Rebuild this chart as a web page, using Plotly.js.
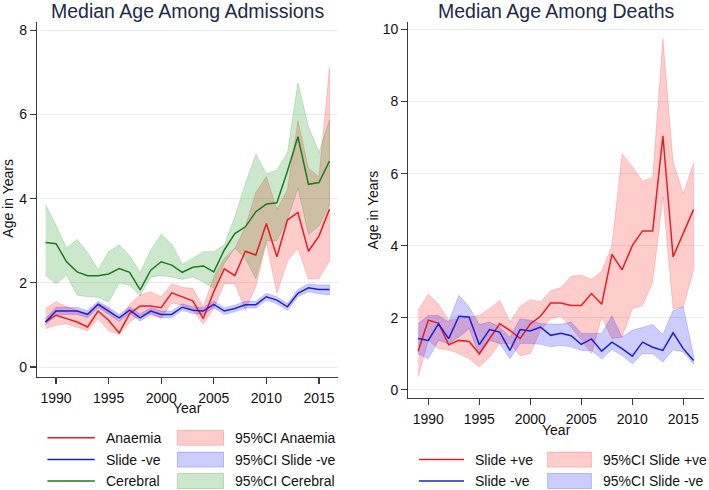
<!DOCTYPE html>
<html>
<head>
<meta charset="utf-8">
<script src="https://cdn.plot.ly/plotly-3.0.1.min.js"></script>
<style>html,body{margin:0;padding:0;background:#fff;}#chart{width:709px;height:490px;}</style>
</head>
<body>
<div id="chart"></div>
<script>
// ---------- data ----------
const years = [1989,1990,1991,1992,1993,1994,1995,1996,1997,1998,1999,2000,2001,2002,2003,2004,2005,2006,2007,2008,2009,2010,2011,2012,2013,2014,2015,2016];

// Admissions panel
const anaemia   = [1.07,1.23,1.15,1.07,0.95,1.33,1.11,0.81,1.27,1.45,1.45,1.41,1.76,1.67,1.57,1.15,1.79,2.33,2.17,2.75,2.66,3.41,2.62,3.49,3.67,2.75,3.11,3.75];
const anaemiaHi = [1.39,1.55,1.43,1.35,1.27,1.51,1.39,1.07,1.49,1.71,1.79,1.67,1.98,1.89,1.87,1.43,2.14,2.58,2.82,3.33,4.15,4.52,3.75,4.20,5.85,4.72,4.52,7.10];
const anaemiaLo = [0.91,0.99,1.03,0.95,0.86,1.15,0.86,0.77,1.07,1.23,1.27,1.15,1.52,1.47,1.35,1.02,1.39,1.98,1.98,1.35,1.92,2.96,1.75,2.52,2.82,2.09,2.10,2.52];

const slideNegA   = [1.07,1.33,1.33,1.33,1.25,1.49,1.33,1.17,1.35,1.17,1.33,1.25,1.25,1.42,1.35,1.33,1.49,1.33,1.39,1.48,1.48,1.67,1.59,1.43,1.75,1.88,1.84,1.84];
const slideNegAHi = [1.15,1.42,1.42,1.42,1.34,1.56,1.42,1.25,1.43,1.26,1.41,1.33,1.33,1.50,1.43,1.41,1.57,1.41,1.47,1.56,1.56,1.75,1.67,1.51,1.84,1.97,1.95,1.95];
const slideNegALo = [1.00,1.24,1.25,1.25,1.17,1.41,1.25,1.09,1.27,1.09,1.25,1.17,1.17,1.35,1.27,1.25,1.41,1.25,1.31,1.40,1.40,1.59,1.50,1.35,1.67,1.79,1.74,1.71];

const cerebral   = [2.96,2.93,2.50,2.26,2.17,2.17,2.21,2.34,2.25,1.83,2.30,2.50,2.42,2.25,2.37,2.40,2.26,2.78,3.17,3.33,3.69,3.87,3.90,4.65,5.47,4.34,4.38,4.89];
const cerebralHi = [3.86,3.37,2.82,3.03,2.72,2.31,2.74,2.90,2.64,2.24,2.78,3.15,2.92,2.44,2.58,2.74,2.74,2.90,3.57,4.35,5.06,4.59,4.68,5.08,6.75,5.71,5.10,5.87];
const cerebralLo = [2.18,1.98,2.18,1.71,1.67,1.66,1.54,2.00,1.94,1.69,2.14,2.17,2.14,2.08,2.14,2.02,1.87,2.46,2.82,2.58,2.10,3.00,3.00,3.50,4.25,3.15,3.35,3.85];

// Deaths panel
const slidePos   = [1.07,1.93,1.85,1.25,1.37,1.34,1.00,1.42,1.83,1.65,1.42,1.83,2.04,2.41,2.41,2.34,2.34,2.67,2.37,3.76,3.33,4.00,4.41,4.41,7.05,3.69,4.35,5.00];
const slidePosHi = [2.20,2.65,2.37,1.93,1.97,2.02,2.06,2.25,2.48,1.88,2.31,2.50,2.44,2.75,2.83,3.15,3.18,3.06,3.29,4.00,6.55,6.19,5.79,5.89,9.75,6.32,5.44,6.28];
const slidePosLo = [0.35,1.37,1.14,1.11,1.00,0.86,0.63,0.91,1.28,1.28,0.95,1.00,1.65,1.98,2.03,1.74,1.38,1.00,2.02,1.42,1.46,2.25,2.34,2.99,5.35,2.25,2.30,3.31];

const slideNegD   = [1.42,1.37,1.83,1.42,2.04,2.02,1.25,1.67,1.60,1.09,1.67,1.63,1.74,1.51,1.57,1.50,1.26,1.41,1.07,1.32,1.14,0.93,1.32,1.18,1.09,1.58,1.14,0.81];
const slideNegDHi = [1.83,2.06,2.06,1.88,2.62,2.30,1.81,1.88,1.74,1.46,1.97,1.93,1.83,1.82,1.82,1.88,1.57,1.56,1.56,2.05,1.46,1.65,1.74,1.81,1.53,2.20,2.30,0.95];
const slideNegDLo = [1.00,0.86,1.37,1.28,1.46,1.69,0.95,1.37,1.28,0.86,1.28,1.28,1.26,1.19,1.23,1.19,1.09,1.09,0.86,1.12,0.95,0.72,1.00,1.00,0.77,1.11,1.05,0.72];

const xTickVals = [1990,1995,2000,2005,2010,2015];
const xTickText = ['1990','1995','2000','2005','2010','2015'];
const yTickValsA = [0,2,4,6,8];
const yTickValsD = [0,2,4,6,8,10];

const leftLegend  = [['Anaemia','95%CI Anaemia'],['Slide -ve','95%CI Slide -ve'],['Cerebral','95%CI Cerebral']];
const rightLegend = [['Slide +ve','95%CI Slide +ve'],['Slide -ve','95%CI Slide -ve']];

// ---------- styles ----------
const RED = '#e31e24', BLUE = '#1f1fd1', GREEN = '#1e7b1e';
const RED_F = 'rgba(255,0,0,0.2)', BLUE_F = 'rgba(0,0,255,0.2)', GREEN_F = 'rgba(0,140,0,0.2)';
const RED_E = 'rgba(255,0,0,0.22)', BLUE_E = 'rgba(0,0,255,0.22)', GREEN_E = 'rgba(0,120,0,0.22)';
const FONT = 'Liberation Sans, Arial, Helvetica, sans-serif';

function band(xa, ya, hi, lo, fc, lc) {
  return {
    x: years.concat(years.slice().reverse()),
    y: hi.concat(lo.slice().reverse()),
    xaxis: xa, yaxis: ya, type: 'scatter', mode: 'lines',
    fill: 'toself', fillcolor: fc, line: {color: lc, width: 0.8},
    hoverinfo: 'skip', showlegend: false
  };
}
function line(xa, ya, vals, c, name) {
  return {x: years, y: vals, xaxis: xa, yaxis: ya, type: 'scatter', mode: 'lines',
    line: {color: c, width: 1.5}, name: name, showlegend: false};
}

const data = [
  band('x','y', anaemiaHi, anaemiaLo, RED_F, RED_E),
  band('x','y', slideNegAHi, slideNegALo, BLUE_F, BLUE_E),
  band('x','y', cerebralHi, cerebralLo, GREEN_F, GREEN_E),
  line('x','y', cerebral, GREEN, 'Cerebral'),
  line('x','y', anaemia, RED, 'Anaemia'),
  line('x','y', slideNegA, BLUE, 'Slide -ve'),
  band('x2','y2', slidePosHi, slidePosLo, RED_F, RED_E),
  band('x2','y2', slideNegDHi, slideNegDLo, BLUE_F, BLUE_E),
  line('x2','y2', slidePos, RED, 'Slide +ve'),
  line('x2','y2', slideNegD, BLUE, 'Slide -ve')
];

// pixel -> paper helpers (layout only)
const ML = 37, MR = 5, MT = 22, MB = 92, W = 709, H = 490;
const PW = W - ML - MR, PH = H - MT - MB;
const px = v => (v - ML) / PW;
const py = v => 1 - (v - MT) / PH;

const axisCommon = {
  showline: true, linecolor: '#3a3a3a', linewidth: 1.2,
  ticks: 'outside', ticklen: 6, tickwidth: 1.2, tickcolor: '#3a3a3a',
  tickfont: {family: FONT, size: 14, color: '#111'},
  zeroline: false, fixedrange: true
};

const shapes = [];
const annotations = [];

function addText(text, x, y, opts) {
  annotations.push(Object.assign({
    text: text, xref: 'paper', yref: 'paper', x: px(x), y: py(y),
    showarrow: false, xanchor: 'center', yanchor: 'middle',
    font: {family: FONT, size: 14, color: '#111'}
  }, opts || {}));
}

// Titles
addText('Median Age Among Admissions', 187.5, 11.2, {font: {family: FONT, size: 19.5, color: '#1c2a48'}});
addText('Median Age Among Deaths', 556.5, 11.2, {font: {family: FONT, size: 19.5, color: '#1c2a48'}});
// Axis titles
addText('Age in Years', 8.4, 198.3, {textangle: -90});
addText('Age in Years', 373.4, 210, {textangle: -90});
addText('Year', 187.5, 408.4);
addText('Year', 556, 430);

// Legends
const legColors = {
  'Anaemia': [RED, RED_F, RED_E], 'Slide -ve': [BLUE, BLUE_F, BLUE_E],
  'Cerebral': [GREEN, GREEN_F, GREEN_E], 'Slide +ve': [RED, RED_F, RED_E]
};
// geometry: [lineStart, lineEnd, textStart, rectStart, rectEnd, ciTextStart]
function legend(items, rows, g) {
  items.forEach((it, i) => {
    const y = rows[i];
    const c = legColors[it[0]];
    shapes.push({type: 'line', xref: 'paper', yref: 'paper',
      x0: px(g[0]), x1: px(g[1]), y0: py(y), y1: py(y), line: {color: c[0], width: 1.5}});
    addText(it[0], g[2], y + 0.3, {xanchor: 'left', font: {family: FONT, size: 14, color: '#111'}});
    shapes.push({type: 'rect', xref: 'paper', yref: 'paper',
      x0: px(g[3]), x1: px(g[4]), y0: py(y - 7.5), y1: py(y + 7.5),
      fillcolor: c[1], line: {color: c[2], width: 1}});
    addText(it[1], g[5], y + 0.3, {xanchor: 'left', font: {family: FONT, size: 14, color: '#111'}});
  });
}
const rowsY = [437.8, 459.6, 481.0];
legend(leftLegend, rowsY, [47.4, 94.8, 103.8, 177.4, 223.5, 233.4]);
legend(rightLegend, rowsY.slice(1), [419, 464, 473, 547.6, 591.4, 600.5]);

const layout = {
  width: W, height: H,
  margin: {l: ML, r: MR, t: MT, b: MB, pad: 0},
  paper_bgcolor: '#fff', plot_bgcolor: '#fff',
  showlegend: false,
  xaxis: Object.assign({}, axisCommon, {
    domain: [0, px(338)], range: [1988.19, 2016.81],
    tickvals: xTickVals, ticktext: xTickText, showgrid: false, anchor: 'y',
    ticklabelstandoff: 2
  }),
  yaxis: Object.assign({}, axisCommon, {
    domain: [py(376.7), 1], range: [-0.23, 8.195],
    tickvals: yTickValsA, ticktext: yTickValsA.map(String),
    showgrid: true, gridcolor: '#e6eef0', gridwidth: 1, anchor: 'x'
  }),
  xaxis2: Object.assign({}, axisCommon, {
    domain: [px(408.3), 1], range: [1988.04, 2017.03],
    tickvals: xTickVals, ticktext: xTickText, showgrid: false, anchor: 'y2',
    ticklabelstandoff: 2
  }),
  yaxis2: Object.assign({}, axisCommon, {
    domain: [0, 1], range: [-0.23, 10.21],
    tickvals: yTickValsD, ticktext: yTickValsD.map(String),
    showgrid: true, gridcolor: '#e6eef0', gridwidth: 1, anchor: 'x2'
  }),
  shapes: shapes,
  annotations: annotations
};

Plotly.newPlot('chart', data, layout, {displayModeBar: false, staticPlot: true});
</script>
</body>
</html>
